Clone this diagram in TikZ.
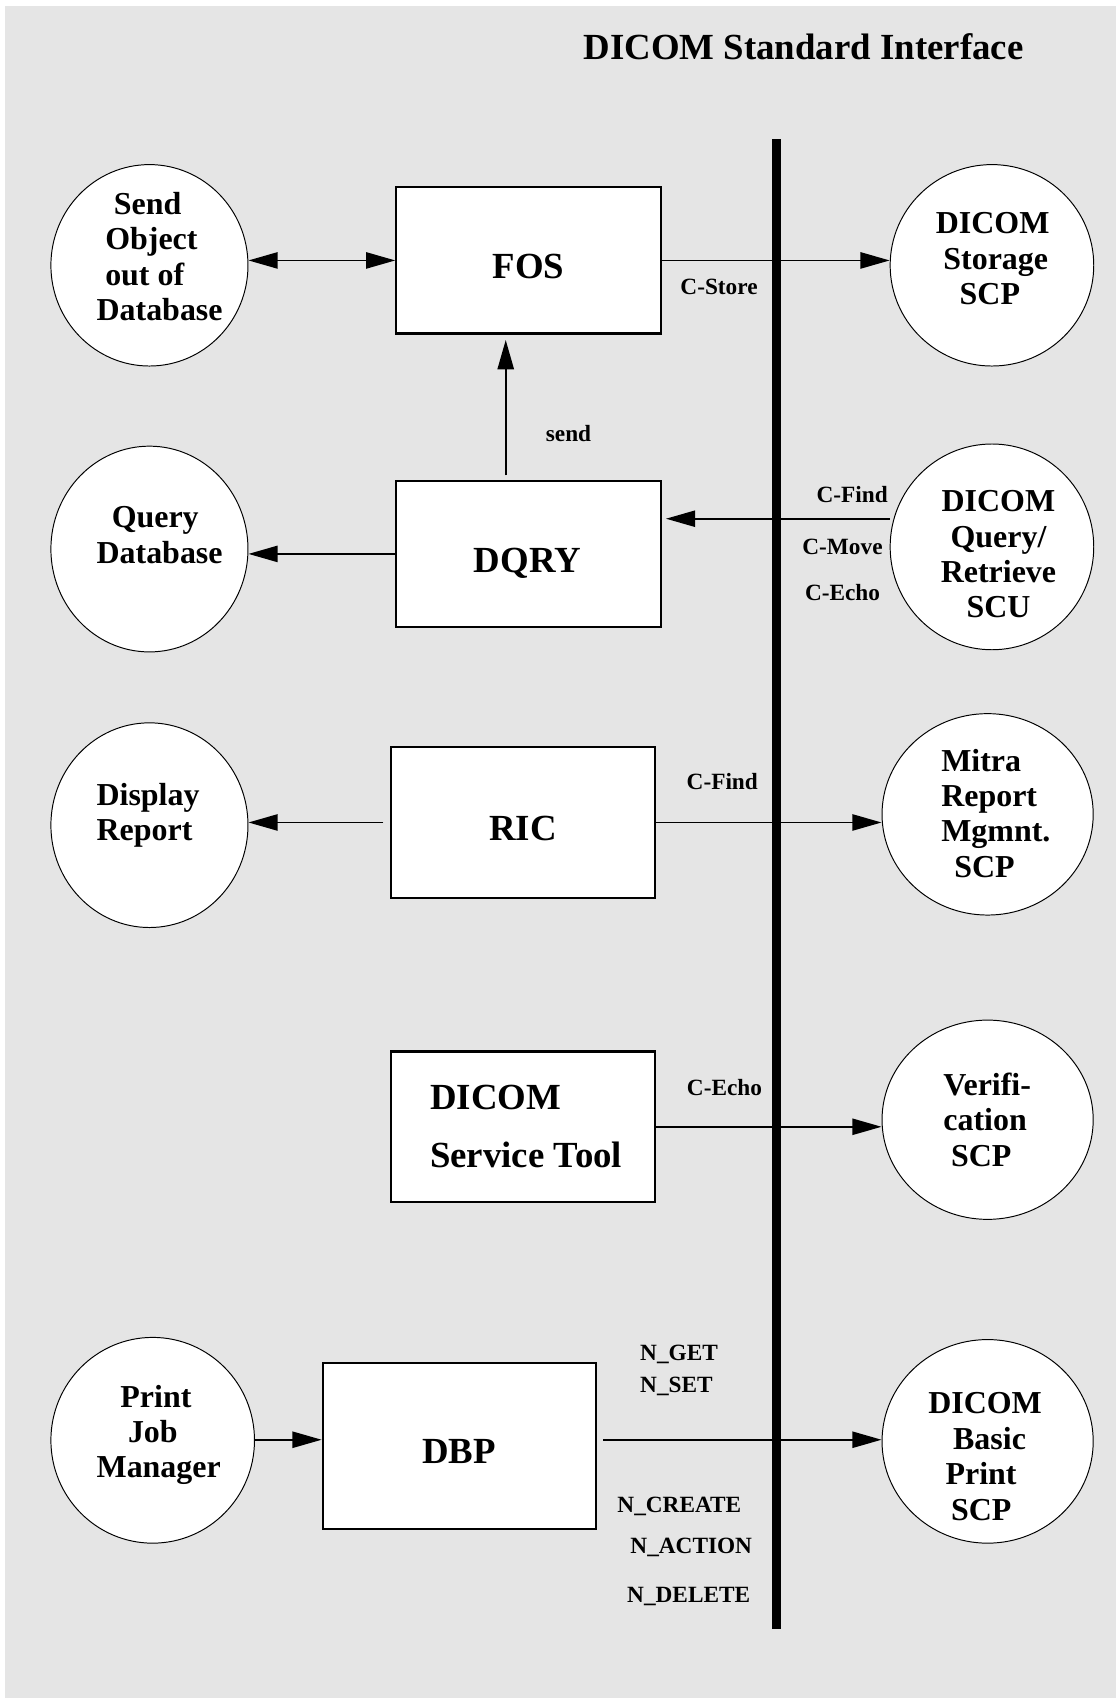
\documentclass[tikz,border=0pt]{standalone}
\usepackage{fontspec}
\setmainfont{Liberation Serif}
\usetikzlibrary{shapes.geometric,arrows.meta}
\definecolor{bggray}{HTML}{E5E5E5}
\begin{document}
\begin{tikzpicture}[x=1pt,y=-1pt,
  box/.style={draw, line width=2pt, fill=white, inner sep=0, minimum width=244pt, minimum height=135pt},
  circ/.style={draw, ellipse, line width=0.9pt, fill=white, inner sep=0},
  big/.style={font=\fontsize{34}{40}\selectfont\bfseries, inner sep=0},
  ctext/.style={font=\fontsize{29.5}{32.7}\selectfont\bfseries, align=left, inner sep=0, anchor=west},
  lab/.style={font=\fontsize{21.5}{24}\selectfont\bfseries, inner sep=0},
  tip/.style={Triangle[length=27pt,width=15pt]},
  arr/.style={line width=1.7pt, -{Triangle[length=27pt,width=15pt]}},
  darr/.style={line width=1.7pt, {Triangle[length=27pt,width=15pt]}-{Triangle[length=27pt,width=15pt]}},
]
\useasboundingbox (0,0) rectangle (1031,1568);
\fill[bggray] (5,6) rectangle (1031,1568);

% title
\node[big] (title) at (742,43) {DICOM Standard Interface};

% interface bar
\node[fill=black, inner sep=0, minimum width=9pt, minimum height=1376pt] (bar) at (717,816) {};

% left ellipses
\node[circ, minimum width=182pt, minimum height=186pt] (send) at (138,245) {};
\node[circ, minimum width=182pt, minimum height=190pt] (qdb) at (138,507) {};
\node[circ, minimum width=182pt, minimum height=189pt] (disp) at (138,762) {};
\node[circ, minimum width=188pt, minimum height=190pt] (pjm) at (141,1330) {};

% right ellipses
\node[circ, minimum width=188pt, minimum height=186pt] (stor) at (916,245) {};
\node[circ, minimum width=188pt, minimum height=190pt] (qr) at (916,505) {};
\node[circ, minimum width=195pt, minimum height=186pt] (mitra) at (912,752) {};
\node[circ, minimum width=195pt, minimum height=184pt] (verif) at (912,1034) {};
\node[circ, minimum width=195pt, minimum height=188pt] (print) at (912,1331) {};

% boxes
\node[box] (fos) at (488,240.5) {};
\node[box] (dqry) at (488,511.5) {};
\node[box, minimum height=139pt] (ric) at (483,759.5) {};
\node[box, minimum height=139pt] (dst) at (483,1040.5) {};
\node[box, minimum width=252pt, minimum height=153pt] (dbp) at (424,1335.5) {};

% ellipse texts
\node[ctext] (t-send) at (89,237) {\hspace*{16pt}Send\\\hspace*{8pt}Object\\\hspace*{8pt}out of\\Database};
\node[ctext] (t-qdb) at (89,494) {\hspace*{14pt}Query\\Database};
\node[ctext] (t-disp) at (89,753) {Display\\Report};
\node[ctext] (t-pjm) at (89,1325) {\hspace*{22pt}Print\\\hspace*{29pt}Job\\Manager};
\node[ctext] (t-stor) at (864,239) {DICOM\\\hspace*{7pt}Storage\\\hspace*{22pt}SCP};
\node[ctext, align=center, anchor=center] (t-qr) at (922,512) {DICOM\\Query/\\Retrieve\\SCU};
\node[ctext] (t-mitra) at (869,751) {Mitra\\Report\\Mgmnt.\\\hspace*{12pt}SCP};
\node[ctext] (t-verif) at (871,1034) {Verifi-\\cation\\\hspace*{7pt}SCP};
\node[ctext] (t-print) at (857,1345) {DICOM\\\hspace*{23pt}Basic\\\hspace*{16pt}Print\\\hspace*{21pt}SCP};

% box texts
\node[big] (l-fos) at (488,246) {FOS};
\node[big] (l-dqry) at (487,520) {DQRY};
\node[big] (l-ric) at (483,765) {RIC};
\node[big] (l-dbp) at (424,1340) {DBP};
\node[big, align=left, anchor=west] (l-dst) at (397,1040) {DICOM\\[14pt]Service Tool};

% connectors
\draw[darr] (fos.west -| send.east) -- (fos.west);
\draw[arr] (fos.east) -- (fos.east -| stor.west);
\draw[arr, shorten >=5pt] ([xshift=-21pt,yshift=4pt]dqry.north) -- ([xshift=-21pt]fos.south);
\draw[arr] (dqry.west) -- (dqry.west -| qdb.east);
\draw[arr, shorten >=4pt] ([yshift=26pt]qr.west) -- ([yshift=26pt]qr.west -| dqry.east);
\draw[arr, shorten <=6pt] (ric.west) -- (ric.west -| disp.east);
\draw[arr] (ric.east) -- (ric.east -| mitra.west);
\draw[arr] (dst.east) -- (dst.east -| verif.west);
\draw[arr] ([yshift=6pt]dbp.west -| pjm.east) -- ([yshift=6pt]dbp.west);
\draw[arr, shorten <=6pt] ([yshift=6pt]dbp.east) -- ([yshift=6pt]dbp.east -| print.west);

% connector labels
\node[lab] (c-store) at (664,265) {C-Store};
\node[lab] (send-lab) at (525,400) {send};
\node[lab, anchor=east] (cf1) at (820,457) {C-Find};
\node[lab] (cm) at (778,505) {C-Move};
\node[lab] (ce1) at (778,547) {C-Echo};
\node[lab] (cf2) at (667,722) {C-Find};
\node[lab] (ce2) at (669,1004) {C-Echo};
\node[lab, anchor=west] (nget) at (591,1251) {N\_GET};
\node[lab, anchor=west] (nset) at (591,1280) {N\_SET};
\node[lab, anchor=west] (ncreate) at (570,1391) {N\_CREATE};
\node[lab, anchor=west] (naction) at (582,1429) {N\_ACTION};
\node[lab, anchor=west] (ndelete) at (579,1474) {N\_DELETE};
\end{tikzpicture}
\end{document}
